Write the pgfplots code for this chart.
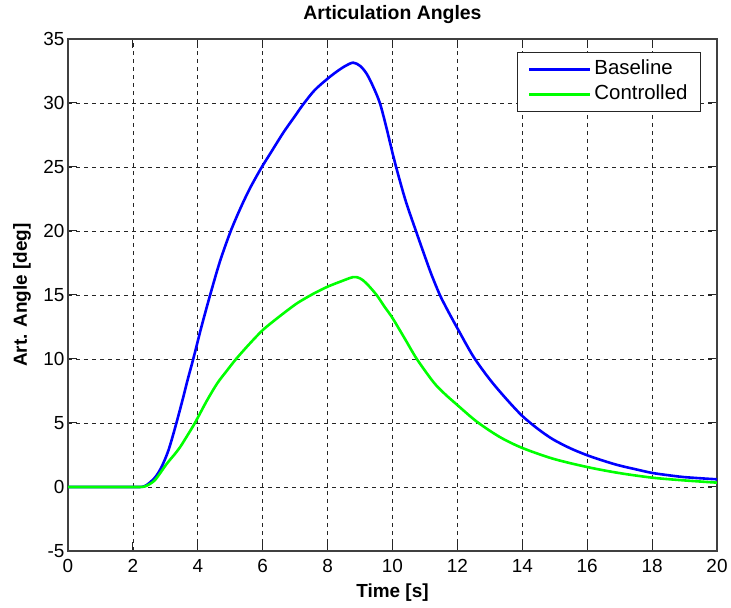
\documentclass[border=0pt]{standalone}
\usepackage{fontspec}
\setmainfont{Liberation Sans}
\usepackage{pgfplots}
\usepackage{pgfplotstable}
\usetikzlibrary{calc}
\pgfplotsset{compat=1.18}

\pgfplotstableread{
x y
0 0
1 0
2.0 0
2.2 0.0
2.35 0.05
2.5 0.3
2.7 0.8
2.89 1.6
3.1 2.9
3.33 4.9
3.55 7.0
3.7 8.5
3.86 10.0
4.1 12.4
4.38 15.0
4.68 17.6
5.0 19.9
5.3 21.7
5.6 23.3
5.95 24.9
6.22 26.0
6.64 27.7
7.0 29.0
7.25 29.9
7.6 31.0
8.0 31.9
8.28 32.45
8.55 32.9
8.79 33.15
9.0 32.9
9.2 32.3
9.4 31.3
9.61 30.0
9.8 28.2
10.0 26.1
10.1 25.1
10.4 22.4
10.75 19.8
11.0 18.0
11.2 16.6
11.46 15.0
11.7 13.8
12.0 12.4
12.49 10.2
13.0 8.4
13.5 6.9
14.0 5.55
14.5 4.5
14.96 3.7
15.5 3.0
16.0 2.48
16.5 2.05
16.96 1.7
17.5 1.38
18.0 1.1
18.5 0.92
18.96 0.78
19.5 0.68
20.0 0.6
}\baseline

\pgfplotstableread{
x y
0 0
1 0
2.0 0
2.2 0
2.35 0.03
2.5 0.2
2.7 0.6
3.04 1.8
3.3 2.6
3.45 3.1
3.6 3.7
3.91 5.0
4.27 6.7
4.6 8.1
4.9 9.1
5.18 10.0
5.6 11.2
6.02 12.3
6.53 13.35
7.0 14.25
7.25 14.65
7.6 15.15
8.0 15.65
8.4 16.05
8.79 16.4
9.0 16.3
9.2 15.9
9.51 15.0
9.75 14.1
10.0 13.2
10.4 11.5
10.75 10.0
11.26 8.2
11.6 7.3
12.0 6.4
12.6 5.1
13.31 3.9
14.0 3.05
14.96 2.2
16.0 1.56
16.96 1.1
18.0 0.73
18.96 0.52
20.0 0.34
}\controlled

\begin{document}
\begin{tikzpicture}
\begin{axis}[
  name=ax,
  scale only axis,
  width=649bp, height=512bp,
  xmin=0, xmax=20, ymin=-5, ymax=35,
  xtick={0,2,...,20}, ytick={-5,0,...,35},
  grid=major,
  major grid style={black!85, line width=0.8bp, dash pattern=on 4bp off 4bp},
  tick align=inside,
  major tick length=9bp,
  tick style={black!85, line width=1bp},
  axis line style={black!75, line width=1.2bp},
  /pgf/number format/assume math mode=true,
  ticklabel style={font=\fontsize{19}{21}\selectfont},
  xticklabel style={yshift=-4.5bp},
  title={Articulation Angles},
  title style={font=\bfseries\fontsize{19.5}{21}\selectfont, at={(0.5,1)}, anchor=base, yshift=14bp},
  xlabel={Time [s]},
  ylabel={Art. Angle [deg]},
  xlabel style={font=\bfseries\fontsize{19}{21}\selectfont, at={(0.5,0)}, anchor=base, yshift=-46bp},
  ylabel style={font=\bfseries\fontsize{19}{21}\selectfont, at={(0,0.5)}, anchor=base, yshift=41bp},
  legend cell align=left,
  legend image code/.code={\draw[#1] (0bp,0bp) -- (61bp,0bp);},
  legend style={at={(1,1)}, anchor=north east, xshift=-16bp, yshift=-13bp,
    draw=black!85, line width=1bp, fill=white,
    font=\fontsize{20.5}{22}\selectfont,
    inner xsep=10bp, inner ysep=8bp, row sep=7bp,
    nodes={inner xsep=3bp, inner ysep=0bp, text height=14bp, text depth=4bp}},
]
\addplot[blue, line width=2.6bp, smooth, tension=0.5] table[x=x, y=y] {\baseline};
\addlegendentry{Baseline}
\addplot[green, line width=2.6bp, smooth, tension=0.5] table[x=x, y=y] {\controlled};
\addlegendentry{Controlled}
\end{axis}
\path (ax.south west) ++(-68bp,-57bp) rectangle ($(ax.north east)+(14bp,39bp)$);
\end{tikzpicture}
\end{document}
